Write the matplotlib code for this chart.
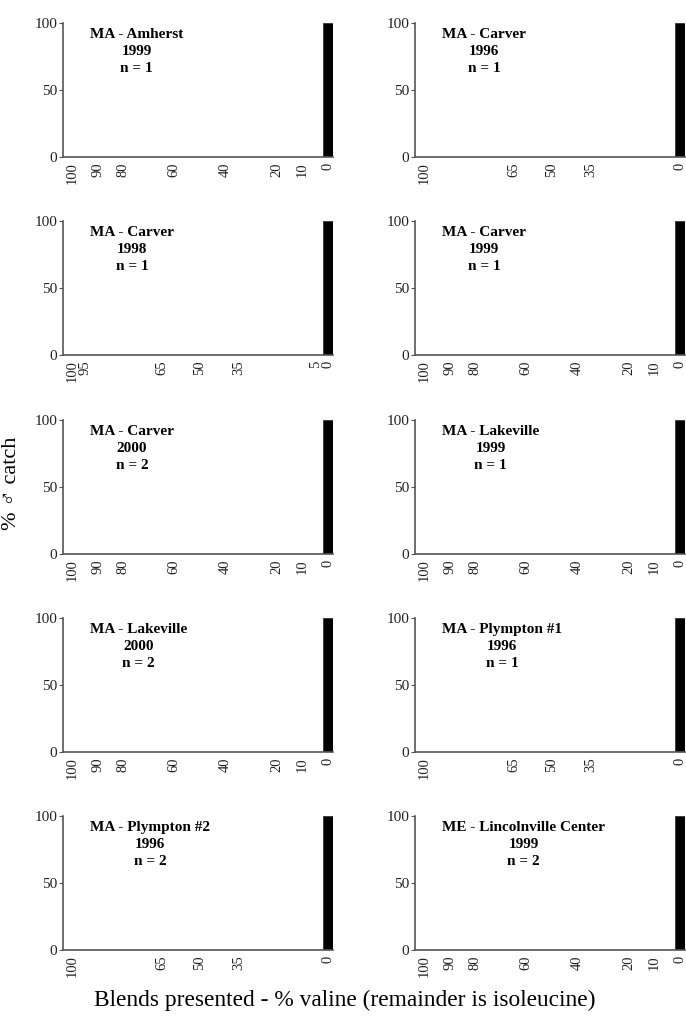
import matplotlib
matplotlib.use("Agg")
import matplotlib.pyplot as plt

plt.rcParams['font.family'] = ['Liberation Serif', 'DejaVu Serif']

# ---- data ----
ticks_a = [100, 90, 80, 60, 40, 20, 10, 0]
ticks_b = [100, 65, 50, 35, 0]
ticks_c = [100, 95, 65, 50, 35, 5, 0]

sites = ["MA - Amherst", "MA - Carver", "MA - Carver", "MA - Carver", "MA - Carver",
         "MA - Lakeville", "MA - Lakeville", "MA - Plympton #1", "MA - Plympton #2",
         "ME - Lincolnville Center"]
years = ["1999", "1996", "1998", "1999", "2000", "1999", "2000", "1996", "1996", "1999"]
n_vals = [1, 1, 1, 1, 2, 1, 2, 1, 2, 2]
blends = [ticks_a, ticks_b, ticks_c, ticks_a, ticks_a, ticks_a, ticks_a, ticks_b, ticks_b, ticks_a]
# % male catch per blend (only the 0% valine blend caught males)
catch = [[100.0 if b == 0 else 0.0 for b in bl] for bl in blends]

W, H = 686, 1021
fig = plt.figure(figsize=(W / 100, H / 100), dpi=100)

col_left = [63, 415]
col_width = [270, 270]
row_top = [23, 221, 420, 618, 816]
ax_h = 134

spine_col = "#555555"
for i in range(10):
    r, c = divmod(i, 2)
    l = col_left[c]
    t = row_top[r]
    ax = fig.add_axes([l / W, 1 - (t + ax_h) / H, col_width[c] / W, ax_h / H])
    ax.bar(blends[i], catch[i], width=4.2, color="black", edgecolor="#333333", linewidth=0.6)
    ax.set_xlim(103.5, -2)
    ax.set_ylim(0, 100)
    ax.set_yticks([0, 50, 100])
    ax.set_yticklabels(["0", "50", "100"], fontsize=11, color="#222222")
    ax.set_xticks(blends[i])
    ax.set_xticklabels([str(b) for b in blends[i]], rotation=90, fontsize=10.5, color="#222222")
    ax.tick_params(axis='x', length=0, pad=4)
    ax.tick_params(axis='y', length=3, width=0.8, pad=1, color=spine_col)
    for s in ["top", "right"]:
        ax.spines[s].set_visible(False)
    for s in ["left", "bottom"]:
        ax.spines[s].set_color(spine_col)
        ax.spines[s].set_linewidth(1.2)
    ax.text(27 / col_width[c], 0.96, f"{sites[i]}\n{years[i]}\nn = {n_vals[i]}",
            transform=ax.transAxes, ha="left", va="top", multialignment="center",
            fontsize=11, fontweight="bold", linespacing=1.38)

fig.text(12 / W, 1 - 483 / H, "% \u2642 catch", rotation=90, ha="center", va="center", fontsize=16)
fig.text(345 / W, 1 - 1000 / H, "Blends presented - % valine (remainder is isoleucine)",
         ha="center", va="center", fontsize=16.8)

fig.savefig("out.png", dpi=100)
